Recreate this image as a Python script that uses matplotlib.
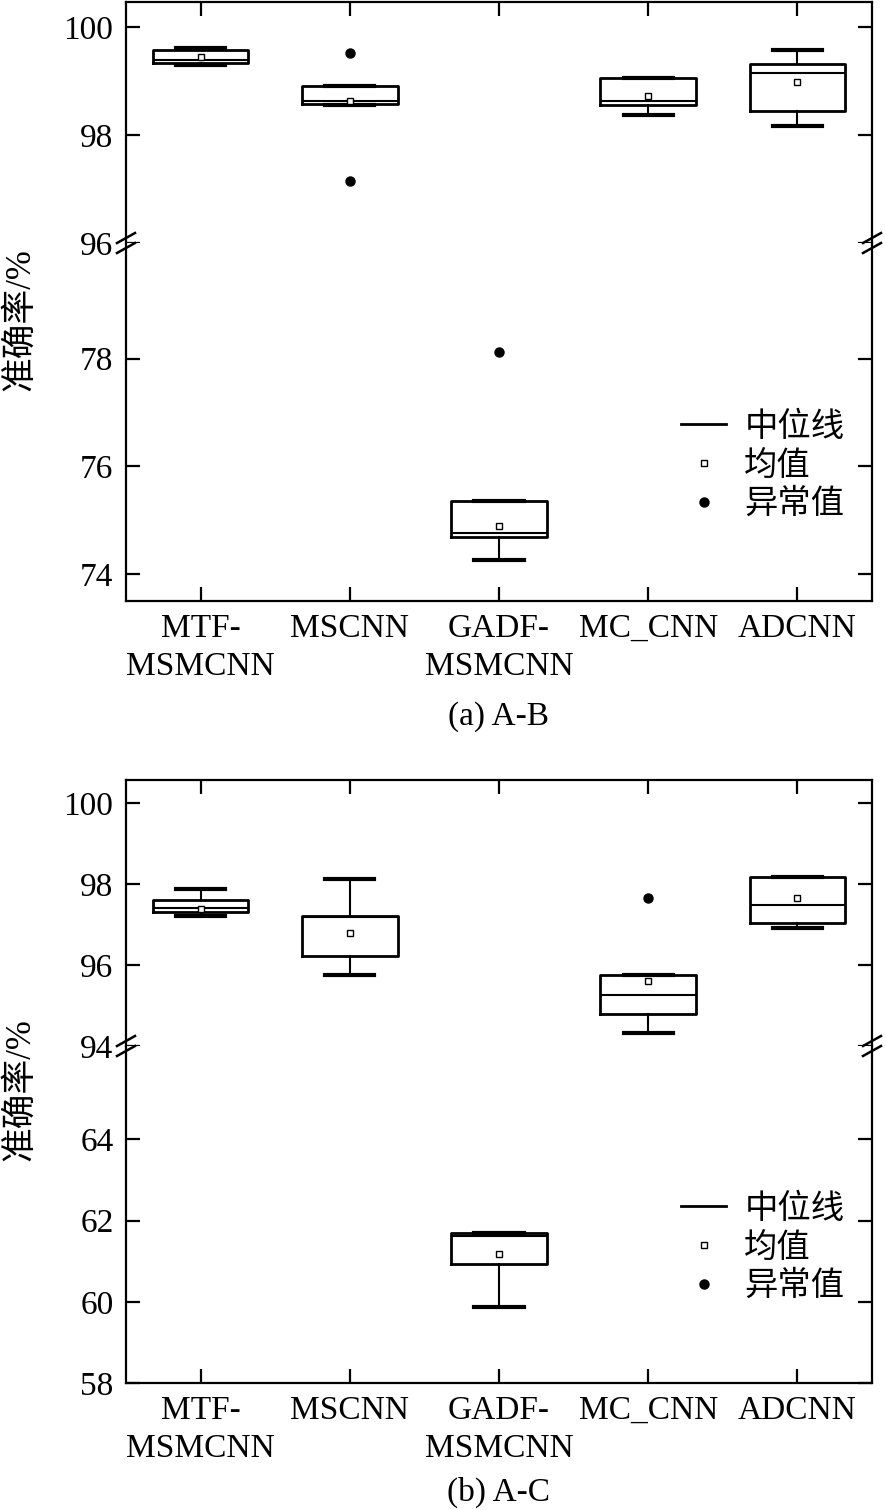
import matplotlib
matplotlib.use('Agg')
import matplotlib.pyplot as plt
from matplotlib.lines import Line2D

plt.rcParams['font.family'] = ['Liberation Serif', 'Noto Sans CJK SC']
plt.rcParams['font.size'] = 24

models = ['MTF-\nMSMCNN', 'MSCNN', 'GADF-\nMSMCNN', 'MC_CNN', 'ADCNN']

# (a) A-B
ab_whislo = [99.29, 98.55, 74.27, 98.36, 98.16]
ab_q1 = [99.34, 98.57, 74.69, 98.55, 98.45]
ab_med = [99.38, 98.62, 74.77, 98.62, 99.15]
ab_q3 = [99.57, 98.90, 75.36, 99.05, 99.31]
ab_whishi = [99.60, 98.90, 75.36, 99.05, 99.58]
ab_mean = [99.44, 98.62, 74.90, 98.72, 98.98]
ab_fliers = [[], [99.52, 97.15], [78.12], [], []]

# (b) A-C
ac_whislo = [97.20, 95.75, 59.86, 94.31, 96.91]
ac_q1 = [97.30, 96.23, 60.93, 94.79, 97.03]
ac_med = [97.40, 97.18, 61.62, 95.27, 97.48]
ac_q3 = [97.61, 97.20, 61.70, 95.75, 98.18]
ac_whishi = [97.89, 98.12, 61.70, 95.75, 98.18]
ac_mean = [97.38, 96.78, 61.18, 95.60, 97.66]
ac_fliers = [[], [], [], [97.66], []]

legend_labels = ['中位线', '均值', '异常值']

W, H = 886, 1510
fig = plt.figure(figsize=(W / 100, H / 100), dpi=100)


def stats_list(whislo, q1, med, q3, whishi, mean, fliers):
    out = []
    for i in range(len(med)):
        out.append(dict(whislo=whislo[i], q1=q1[i], med=med[i], q3=q3[i],
                        whishi=whishi[i], mean=mean[i], fliers=fliers[i]))
    return out


def break_marks(x, y):
    # the little "//" drawn across the spine where the axis is cut
    for dy in (-5, 5):
        fig.add_artist(Line2D([(x - 9) / W, (x + 9) / W],
                              [1 - (y + dy + 5) / H, 1 - (y + dy - 5) / H],
                              transform=fig.transFigure, color='k', lw=1.8))


def panel(stats, top, brk, bottom, top_lim, top_ticks, bot_lim, bot_ticks,
          caption, cap_y, ylab_y, leg_y):
    left, right = 126, 872
    ax_t = fig.add_axes([left / W, 1 - brk / H, (right - left) / W, (brk - top) / H])
    ax_b = fig.add_axes([left / W, 1 - bottom / H, (right - left) / W, (bottom - brk) / H])
    for ax in (ax_t, ax_b):
        ax.bxp(stats, positions=range(1, 6), widths=0.64, capwidths=0.33,
               showmeans=True, patch_artist=False,
               boxprops=dict(color='k', lw=2),
               whiskerprops=dict(color='k', lw=1.5),
               capprops=dict(color='k', lw=3),
               medianprops=dict(color='k', lw=1.5),
               meanprops=dict(marker='s', markersize=4.5, markerfacecolor='w',
                              markeredgecolor='k', markeredgewidth=1),
               flierprops=dict(marker='o', markersize=6.5, markerfacecolor='k',
                               markeredgecolor='k'))
        ax.set_xlim(0.5, 5.5)
        for s in ax.spines.values():
            s.set_linewidth(1.6)
        ax.tick_params(direction='in', length=10, width=1.6, right=True)
        ax.tick_params(axis='y', pad=9)
    ax_t.set_ylim(*top_lim)
    ax_t.set_yticks(top_ticks)
    ax_t.spines['bottom'].set_visible(False)
    ax_t.tick_params(axis='x', bottom=False, top=True, labelbottom=False)
    ax_b.set_ylim(*bot_lim)
    ax_b.set_yticks(bot_ticks)
    ax_b.spines['top'].set_visible(False)
    ax_b.set_xticks(range(1, 6))
    ax_b.set_xticklabels(models, linespacing=1.3)
    ax_b.tick_params(axis='x', pad=9)

    break_marks(left, brk)
    break_marks(right, brk)

    fig.text(20 / W, 1 - ylab_y / H, '准确率/%', rotation=90, ha='center', va='center',
             fontsize=25)
    fig.text((left + right) / 2 / W, 1 - cap_y / H, caption, ha='center', va='center')

    handles = [Line2D([], [], color='k', lw=2),
               Line2D([], [], ls='none', marker='s', markersize=4.5,
                      markerfacecolor='w', markeredgecolor='k', markeredgewidth=1),
               Line2D([], [], ls='none', marker='o', markersize=6.5, color='k')]
    ax_b.legend(handles, legend_labels, loc='center left',
                bbox_to_anchor=(681 / W, 1 - leg_y / H), bbox_transform=fig.transFigure,
                frameon=False, borderpad=0, borderaxespad=0, handlelength=1.35,
                handletextpad=0.55, labelspacing=0.22)


panel(stats_list(ab_whislo, ab_q1, ab_med, ab_q3, ab_whishi, ab_mean, ab_fliers),
      2, 243, 601, (96, 100.46), [96, 98, 100], (73.5, 80.15), [74, 76, 78],
      '(a) A-B', 717, 320, 466)
panel(stats_list(ac_whislo, ac_q1, ac_med, ac_q3, ac_whishi, ac_mean, ac_fliers),
      780, 1046, 1383, (94, 100.57), [94, 96, 98, 100], (58, 66.3), [58, 60, 62, 64],
      '(b) A-C', 1492, 1090, 1248)

fig.savefig('out.png', dpi=100)
